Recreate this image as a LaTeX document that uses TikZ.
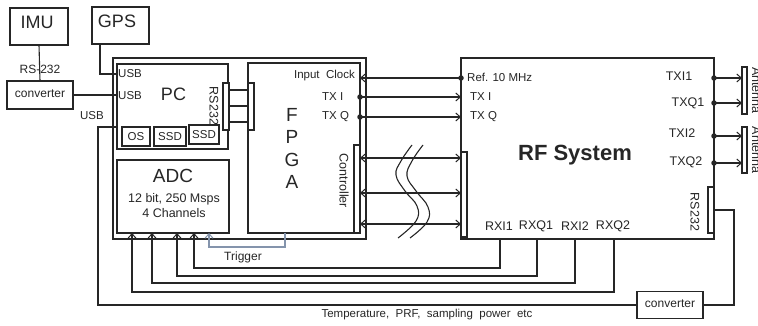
\documentclass[tikz,border=0pt]{standalone}
\usepackage{fontspec}
\setmainfont{Liberation Sans}
\usetikzlibrary{arrows.meta}
\definecolor{ink}{HTML}{262626}
\definecolor{trig}{HTML}{8494AC}
\begin{document}
\begin{tikzpicture}[x=1pt,y=-1pt,
  ln/.style={line width=1.1pt, draw=ink},
  box/.style={ln, rectangle, inner sep=0pt, outer sep=0pt, fill=white},
  lbl/.style={font=\fontsize{11.5}{13}\selectfont, inner sep=0pt, text=ink},
  mid/.style={font=\fontsize{12.5}{14}\selectfont, inner sep=0pt, text=ink},
  big/.style={font=\fontsize{18}{20}\selectfont, inner sep=0pt, text=ink},
  tip/.style={-{Straight Barb[length=4.5pt,width=8pt,line width=1pt]}},
  dtip/.style={{Straight Barb[length=4.5pt,width=8pt,line width=1pt]}-{Straight Barb[length=4.5pt,width=8pt,line width=1pt]}},
  dot/.style={circle, fill=ink, inner sep=0pt, minimum size=5.5pt}
]
\useasboundingbox (0,0) rectangle (758,326);

% ---- boxes ----
\node[box, minimum width=58pt, minimum height=37pt] (imu) at (39,26.5) {};
\node[big] (imut) at (37,22) {IMU};
\node[box, minimum width=57pt, minimum height=37pt] (gps) at (120.5,25.5) {};
\node[big] (gpst) at (117,21.5) {GPS};
\node[box, minimum width=66pt, minimum height=28pt] (conv1) at (40,95) {};
\node[lbl, font=\fontsize{12}{14}\selectfont] (conv1t) at (40,94) {converter};

\node[box, minimum width=253pt, minimum height=181pt] (outer) at (239.5,148.5) {};
\node[box, minimum width=111pt, minimum height=85pt] (pc) at (172.5,106.5) {};
\node[big] (pct) at (173.5,94.5) {PC};
\node[box, minimum width=28pt, minimum height=19pt] (os) at (136,136.5) {};
\node[lbl] (ost) at (136,136.5) {OS};
\node[box, minimum width=32pt, minimum height=19pt] (ssda) at (170,136.5) {};
\node[lbl] (ssdat) at (170,136.5) {SSD};
\node[box, minimum width=30pt, minimum height=19pt] (ssdb) at (204,134.5) {};
\node[lbl] (ssdbt) at (204,134.5) {SSD};
\node[mid, rotate=-90] (pcrs) at (214,106) {RS232};
\node[box, minimum width=6pt, minimum height=47pt] (pcbar) at (226,106.5) {};

\node[box, minimum width=112pt, minimum height=73pt] (adc) at (173,196.5) {};
\node[big, font=\fontsize{19}{21}\selectfont] (adct) at (173,176) {ADC};
\node[mid] (adca) at (174,199) {12 bit, 250 Msps};
\node[mid] (adcb) at (174,213) {4 Channels};

\node[box, minimum width=112pt, minimum height=170pt] (fpga) at (304,148) {};
\node[box, minimum width=6pt, minimum height=47pt] (fbar) at (251,106.5) {};
\node[box, minimum width=6pt, minimum height=88pt] (cbar) at (357,189) {};
\node[big, font=\fontsize{19}{21}\selectfont] (ff) at (292,115) {F};
\node[big, font=\fontsize{19}{21}\selectfont] (fp) at (292,137) {P};
\node[big, font=\fontsize{19}{21}\selectfont] (fg) at (292,159.5) {G};
\node[big, font=\fontsize{19}{21}\selectfont] (fa) at (292,182) {A};
\node[lbl, anchor=east] (inclk) at (355,76) {Input\ \ Clock};
\node[lbl, anchor=west] (txi) at (322,97) {TX I};
\node[lbl, anchor=west] (txq) at (322,117) {TX Q};
\node[mid, rotate=-90] (ctrlt) at (344,181) {Controller};

\node[box, minimum width=253pt, minimum height=181pt] (rf) at (587.5,148.5) {};
\node[box, minimum width=6pt, minimum height=85pt] (rfbar) at (464,194.5) {};
\node[box, minimum width=6pt, minimum height=46pt] (rsbar) at (711,210) {};
\node[inner sep=0pt, text=ink, font=\fontsize{22}{24}\selectfont\bfseries] (rft) at (575,155) {RF System};
\node[lbl, anchor=west] (ref) at (467,77) {Ref. 10 MHz};
\node[lbl, anchor=west] (rtxi) at (470,97) {TX I};
\node[lbl, anchor=west] (rtxq) at (470,117) {TX Q};
\node[mid] (txia) at (679,76) {TXI1};
\node[mid] (txqa) at (688,103.5) {TXQ1};
\node[mid] (txib) at (682,133) {TXI2};
\node[mid] (txqb) at (686,162) {TXQ2};
\node[mid, rotate=-90] (rfrs) at (695,212) {RS232};
\node[mid] (rxia) at (499,226) {RXI1};
\node[mid] (rxqa) at (536,226) {RXQ1};
\node[mid] (rxib) at (575,226) {RXI2};
\node[mid] (rxqb) at (613,226) {RXQ2};

\node[box, minimum width=5pt, minimum height=47pt] (anta) at (744.5,90.5) {};
\node[box, minimum width=5pt, minimum height=46pt] (antb) at (744.5,150) {};
\node[mid, rotate=-90, anchor=base] (antat) at (752,90.5) {Antenna};
\node[mid, rotate=-90, anchor=base] (antbt) at (752,150) {Antenna};

\node[box, minimum width=66pt, minimum height=27pt] (conv2) at (670,305) {};
\node[lbl, font=\fontsize{12}{14}\selectfont] (conv2t) at (670,304) {converter};

% ---- left side connectors ----
\draw[ln] (imu.south) -- (conv1.north);
\node[lbl, font=\fontsize{12}{14}\selectfont] (rs232l) at (40,69) {RS-232};
\coordinate (gpsd) at (100,74);
\draw[ln] (gps.south -| gpsd) |- (pc.west |- gpsd);
\node[lbl, anchor=west] (usba) at (118,74) {USB};
\draw[ln] (conv1.east) -- (pc.west |- conv1.east);
\node[lbl, anchor=west] (usbb) at (118,96) {USB};
\node[lbl] (usbc) at (92,116) {USB};
\coordinate (uc) at (98,127);
\draw[ln] (pc.west |- uc) -- (uc) |- (conv2.west);
\coordinate (rc) at (734,210);
\draw[ln] (conv2.east) -| (rc) -- (rsbar.east);
\node[lbl] (tempt) at (427,315) {Temperature,\ \ PRF,\ \ sampling\ \ power\ \ etc};

% PC <-> FPGA RS232 lines
\foreach \yy in {90,106,122}{
  \draw[ln] (pcbar.east |- 0,\yy) -- (fbar.west |- 0,\yy);
}

% ---- FPGA <-> RF ----
\coordinate (clk) at (0,78);
\coordinate (ti) at (0,97);
\coordinate (tq) at (0,117);
\draw[ln,tip] (rf.west |- clk) -- (fpga.east |- clk);
\node[dot] (dclk) at (rf.west |- clk) {};
\draw[ln,tip] (fpga.east |- ti) -- (rf.west |- ti);
\node[dot] (dti) at (fpga.east |- ti) {};
\draw[ln,tip] (fpga.east |- tq) -- (rf.west |- tq);
\node[dot] (dtq) at (fpga.east |- tq) {};
\foreach \yy in {158,193,224}{
  \draw[ln,dtip] (cbar.east |- 0,\yy) -- (rfbar.west |- 0,\yy);
}
% wavy break marks
\draw[ln] plot[smooth, tension=0.7] coordinates {(412,145) (401,161) (396,175) (405,191) (417,206) (416,221) (398,238)};
\draw[ln] plot[smooth, tension=0.7] coordinates {(423,145) (412,161) (407,176) (416,191) (428,207) (427,222) (410,238)};

% ---- RF outputs to antennas ----
\foreach \yy/\an in {78/anta,103/anta,136/antb,163/antb}{
  \draw[ln,tip] (rf.east |- 0,\yy) -- (\an.west |- 0,\yy);
  \node[dot] at (rf.east |- 0,\yy) {};
}

% ---- RX lines to ADC ----
\draw[ln,tip] (rf.south -| 500,0) |- (194,268) -- (adc.south -| 194,0);
\draw[ln,tip] (rf.south -| 537,0) |- (177,276) -- (adc.south -| 177,0);
\draw[ln,tip] (rf.south -| 575,0) |- (152,283) -- (adc.south -| 152,0);
\draw[ln,tip] (rf.south -| 614,0) |- (132,292) -- (adc.south -| 132,0);

% ---- Trigger ----
\draw[ln, draw=trig, tip] (fpga.south -| 285,0) |- (209,247) -- (adc.south -| 209,0);
\node[lbl, font=\fontsize{12}{14}\selectfont] (trigt) at (243,257) {Trigger};
\end{tikzpicture}
\end{document}
